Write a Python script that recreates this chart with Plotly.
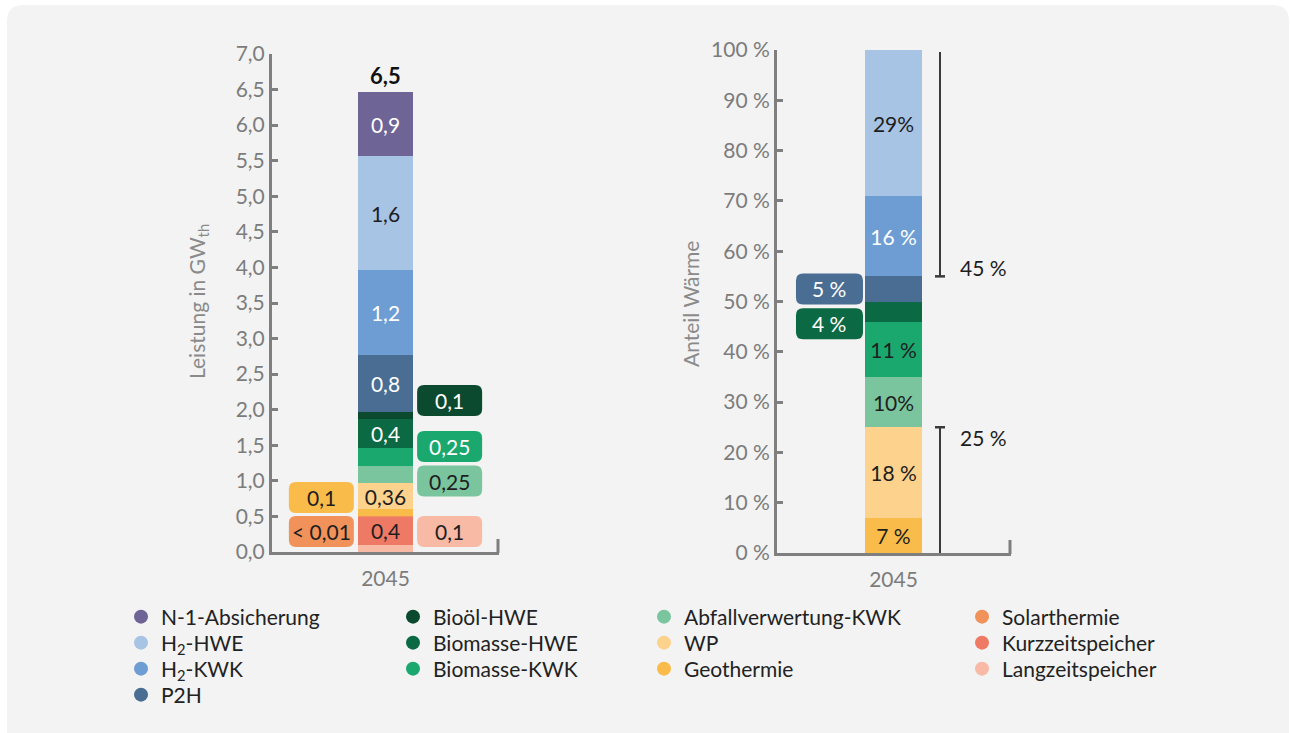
import plotly.graph_objects as go

W, H = 1290, 733

# ---------------- data ----------------
series = ["N-1-Absicherung", "H<sub>2</sub>-HWE", "H<sub>2</sub>-KWK", "P2H",
          "Bioöl-HWE", "Biomasse-HWE", "Biomasse-KWK",
          "Abfallverwertung-KWK", "WP", "Geothermie",
          "Solarthermie", "Kurzzeitspeicher", "Langzeitspeicher"]
colors = ["#6F6496", "#A8C4E4", "#6D9DD3", "#4A6D93",
          "#0C4A2F", "#0B6943", "#1BA86F",
          "#7AC59E", "#FCD28C", "#F9BC4A",
          "#F0925A", "#EE7A66", "#F8B9A5"]
legend_column = [0, 0, 0, 0, 1, 1, 1, 2, 2, 2, 3, 3, 3]
legend_row = [0, 1, 2, 3, 0, 1, 2, 0, 1, 2, 0, 1, 2]
year = "2045"

# Leistung in GW_th (left chart)
leistung = [0.9, 1.6, 1.2, 0.8, 0.1, 0.4, 0.25, 0.25, 0.36, 0.1, 0.005, 0.4, 0.1]
leistung_labels = ["0,9", "1,6", "1,2", "0,8", "0,1", "0,4", "0,25", "0,25",
                   "0,36", "0,1", "< 0,01", "0,4", "0,1"]

# Anteil Wärme in % (right chart)
anteil = [0, 29, 16, 5, 0, 4, 11, 10, 18, 7, 0, 0, 0]
anteil_labels = ["", "29%", "16 %", "5 %", "", "4 %", "11 %", "10%", "18 %", "7 %", "", "", ""]

# brackets on the right chart (groups of series)
bracket_groups = [["H<sub>2</sub>-HWE", "H<sub>2</sub>-KWK"], ["WP", "Geothermie"]]

# ---------------- label placement (layout) ----------------
DARK = "#1E1E1E"
WHITE = "#FFFFFF"
left_inside_color = {"N-1-Absicherung": WHITE, "H<sub>2</sub>-HWE": DARK, "H<sub>2</sub>-KWK": WHITE,
                     "P2H": WHITE, "Biomasse-HWE": WHITE, "WP": DARK, "Kurzzeitspeicher": DARK}
right_inside_color = {"H<sub>2</sub>-HWE": DARK, "H<sub>2</sub>-KWK": WHITE, "Biomasse-KWK": DARK,
                      "Abfallverwertung-KWK": DARK, "WP": DARK, "Geothermie": DARK}
# (series, side, centre y of call-out box, text colour)
left_callouts = [("Geothermie", -1, 0.766, DARK), ("Solarthermie", -1, 0.288, DARK),
                 ("Bioöl-HWE", 1, 2.13, WHITE), ("Biomasse-KWK", 1, 1.483, WHITE),
                 ("Abfallverwertung-KWK", 1, 0.998, DARK), ("Langzeitspeicher", 1, 0.288, DARK)]
right_callouts = [("P2H", -1, 52.5, WHITE), ("Biomasse-HWE", -1, 45.6, WHITE)]

FONT = "Lato"
FS = 21
AXIS_GREY = "#7F7F7F"
TICK_GREY = "#7C7C7C"


def fx(px):
    return px / W


def fy(py):
    return 1 - py / H


# axis geometry (reference pixels)
L_X0, L_X1, L_Y0, L_Y1 = 272, 499, 552, 54
R_X0, R_X1, R_Y0, R_Y1 = 777, 1011, 553, 50
L_XR = [-1.77, 1.77]
R_XR = [-1.82, 1.836]
L_YR = [0, 7]
R_YR = [0, 100]
l_sx = (L_X1 - L_X0) / (L_XR[1] - L_XR[0])
l_sy = (L_Y0 - L_Y1) / (L_YR[1] - L_YR[0])
r_sx = (R_X1 - R_X0) / (R_XR[1] - R_XR[0])
r_sy = (R_Y0 - R_Y1) / (R_YR[1] - R_YR[0])

fig = go.Figure()

# stacking order: bottom first
order = list(range(len(series)))[::-1]
for i in order:
    name = series[i]
    fig.add_trace(go.Bar(
        x=[0], y=[leistung[i]], width=55 / l_sx, marker=dict(color=colors[i], line=dict(width=0)),
        text=[leistung_labels[i] if name in left_inside_color else ""],
        textposition="inside", insidetextanchor="middle", textangle=0,
        textfont=dict(color=left_inside_color.get(name, DARK), size=FS, family=FONT),
        xaxis="x", yaxis="y", showlegend=False, hoverinfo="skip", name=name))
for i in order:
    name = series[i]
    fig.add_trace(go.Bar(
        x=[0], y=[anteil[i]], width=57 / r_sx, marker=dict(color=colors[i], line=dict(width=0)),
        text=[anteil_labels[i] if name in right_inside_color else ""],
        textposition="inside", insidetextanchor="middle", textangle=0,
        textfont=dict(color=right_inside_color.get(name, DARK), size=FS, family=FONT),
        xaxis="x2", yaxis="y2", showlegend=False, hoverinfo="skip", name=name))

# legend entries (circle markers), one small legend per entry for exact grid placement
leg_text_x = [161, 433, 684, 1002]
leg_row_y = [617, 643, 669, 695]
legend_layouts = {}
for i, name in enumerate(series):
    key = "legend" if i == 0 else f"legend{i + 1}"
    fig.add_trace(go.Scatter(x=[None], y=[None], mode="markers", name=name,
                             marker=dict(color=colors[i], size=14, symbol="circle"),
                             legend=key, showlegend=True, hoverinfo="skip"))
    legend_layouts[key] = dict(
        x=fx(leg_text_x[legend_column[i]] - 40), y=fy(leg_row_y[legend_row[i]]),
        xanchor="left", yanchor="middle", orientation="v", bgcolor="rgba(0,0,0,0)",
        font=dict(size=FS, color="#222222", family=FONT), itemclick=False,
        itemdoubleclick=False, itemwidth=30, borderwidth=0)


def rrect(cx, cy, wpx, hpx, sx, sy, r=7):
    hw, hh = wpx / 2 / sx, hpx / 2 / sy
    rx, ry = r / sx, r / sy
    x0, x1, y0, y1 = cx - hw, cx + hw, cy - hh, cy + hh
    return (f"M{x0 + rx},{y0} L{x1 - rx},{y0} Q{x1},{y0} {x1},{y0 + ry} "
            f"L{x1},{y1 - ry} Q{x1},{y1} {x1 - rx},{y1} L{x0 + rx},{y1} "
            f"Q{x0},{y1} {x0},{y1 - ry} L{x0},{y0 + ry} Q{x0},{y0} {x0 + rx},{y0} Z")


shapes = []
annotations = []

# page background card
bx0, by0, bx1, by1 = 7, 5, 1289, 770
rxp, ryp = 16 / W, 16 / H
X0, X1, Y0, Y1 = fx(bx0), fx(bx1), fy(by1), fy(by0)
shapes.append(dict(type="path", xref="paper", yref="paper", layer="below",
                   path=(f"M{X0},{Y0} L{X1},{Y0} L{X1},{Y1 - ryp} Q{X1},{Y1} {X1 - rxp},{Y1} "
                         f"L{X0 + rxp},{Y1} Q{X0},{Y1} {X0},{Y1 - ryp} Z"),
                   fillcolor="#F2F3F2", line=dict(width=0)))

# call-outs
for name, side, cy, tcol in left_callouts:
    i = series.index(name)
    shapes.append(dict(type="path", xref="x", yref="y", layer="above",
                       path=rrect(side, cy, 65, 31, l_sx, l_sy), fillcolor=colors[i], line=dict(width=0)))
    annotations.append(dict(x=side, y=cy, xref="x", yref="y", text=leistung_labels[i], showarrow=False,
                            font=dict(size=FS, color=tcol, family=FONT)))
for name, side, cy, tcol in right_callouts:
    i = series.index(name)
    shapes.append(dict(type="path", xref="x2", yref="y2", layer="above",
                       path=rrect(side, cy, 67, 31, r_sx, r_sy), fillcolor=colors[i], line=dict(width=0)))
    annotations.append(dict(x=side, y=cy, xref="x2", yref="y2", text=anteil_labels[i], showarrow=False,
                            font=dict(size=FS, color=tcol, family=FONT)))

# total above left bar
total = sum(leistung)
annotations.append(dict(x=0, y=total, xref="x", yref="y", yanchor="bottom", yshift=1,
                        text=f"<b>{total:.1f}</b>".replace(".", ","), showarrow=False,
                        font=dict(size=22, color="#111111", family=FONT)))

# brackets on the right chart
x_origin = R_X0 - R_XR[0] * r_sx
BR_X = (940 - x_origin) / r_sx
TICK_HALF = 5 / r_sx
LAB_X = (983 - x_origin) / r_sx
g_top = sum(anteil[series.index(s)] for s in bracket_groups[0])
g_bot = sum(anteil[series.index(s)] for s in bracket_groups[1])
for (ya, yb, ytick, lab, ylab) in [(100 - g_top, 99.6, 100 - g_top, g_top, 100 - g_top + 1.7),
                                    (0, g_bot, g_bot, g_bot, g_bot - 2)]:
    shapes.append(dict(type="line", xref="x2", yref="y2", x0=BR_X, x1=BR_X, y0=ya, y1=yb,
                       line=dict(color="#3A3A3A", width=2)))
    shapes.append(dict(type="line", xref="x2", yref="y2", x0=BR_X - TICK_HALF, x1=BR_X + TICK_HALF,
                       y0=ytick, y1=ytick, line=dict(color="#3A3A3A", width=2.5)))
    annotations.append(dict(x=LAB_X, y=ylab, xref="x2", yref="y2", text=f"{lab} %", showarrow=False,
                            font=dict(size=FS, color=DARK, family=FONT)))

# upturned ends of the x-axis lines
for xe, y0p in [(L_X1, L_Y0), (R_X1, R_Y0)]:
    shapes.append(dict(type="line", xref="paper", yref="paper", x0=fx(xe - 1), x1=fx(xe - 1),
                       y0=fy(y0p + 1), y1=fy(y0p - 13), line=dict(color=AXIS_GREY, width=3)))

# axis titles
annotations.append(dict(x=fx(198), y=fy(302), xref="paper", yref="paper", textangle=-90,
                        xanchor="center", yanchor="middle",
                        text="Leistung in GW<sub>th</sub>", showarrow=False,
                        font=dict(size=21, color="#8A8A8A", family=FONT)))
annotations.append(dict(x=fx(690), y=fy(304), xref="paper", yref="paper", textangle=-90,
                        xanchor="center", yanchor="middle",
                        text="Anteil Wärme", showarrow=False,
                        font=dict(size=21, color="#8A8A8A", family=FONT)))

common_y = dict(showgrid=False, zeroline=False, showline=True, linecolor=AXIS_GREY, linewidth=3,
                ticks="inside", ticklen=6, tickwidth=2.5, tickcolor=AXIS_GREY,
                tickfont=dict(size=FS, color=TICK_GREY, family=FONT), fixedrange=True)
common_x = dict(showgrid=False, zeroline=False, showline=True, linecolor=AXIS_GREY, linewidth=3,
                ticks="", tickvals=[0], ticktext=[year], ticklabelstandoff=6,
                tickfont=dict(size=FS, color=TICK_GREY, family=FONT), fixedrange=True)

fig.update_layout(
    width=W, height=H, margin=dict(l=0, r=0, t=0, b=0, autoexpand=False),
    paper_bgcolor="#FFFFFF", plot_bgcolor="rgba(0,0,0,0)",
    barmode="stack", bargap=0, separators=",.",
    font=dict(family=FONT),
    uniformtext=dict(minsize=FS, mode="show"),
    xaxis=dict(domain=[fx(L_X0), fx(L_X1)], range=L_XR, **common_x),
    yaxis=dict(domain=[fy(L_Y0), fy(L_Y1)], range=L_YR, dtick=0.5, tick0=0, tickformat=".1f", **common_y),
    xaxis2=dict(domain=[fx(R_X0), fx(R_X1)], range=R_XR, anchor="y2", **common_x),
    yaxis2=dict(domain=[fy(R_Y0), fy(R_Y1)], range=R_YR, anchor="x2", dtick=10, tick0=0,
                ticksuffix=" %", **common_y),
    shapes=shapes, annotations=annotations,
    **legend_layouts,
)

fig.write_html("out.html", config={"displayModeBar": False, "staticPlot": False},
               post_script="document.body.style.margin='0';document.body.style.overflow='hidden';")
